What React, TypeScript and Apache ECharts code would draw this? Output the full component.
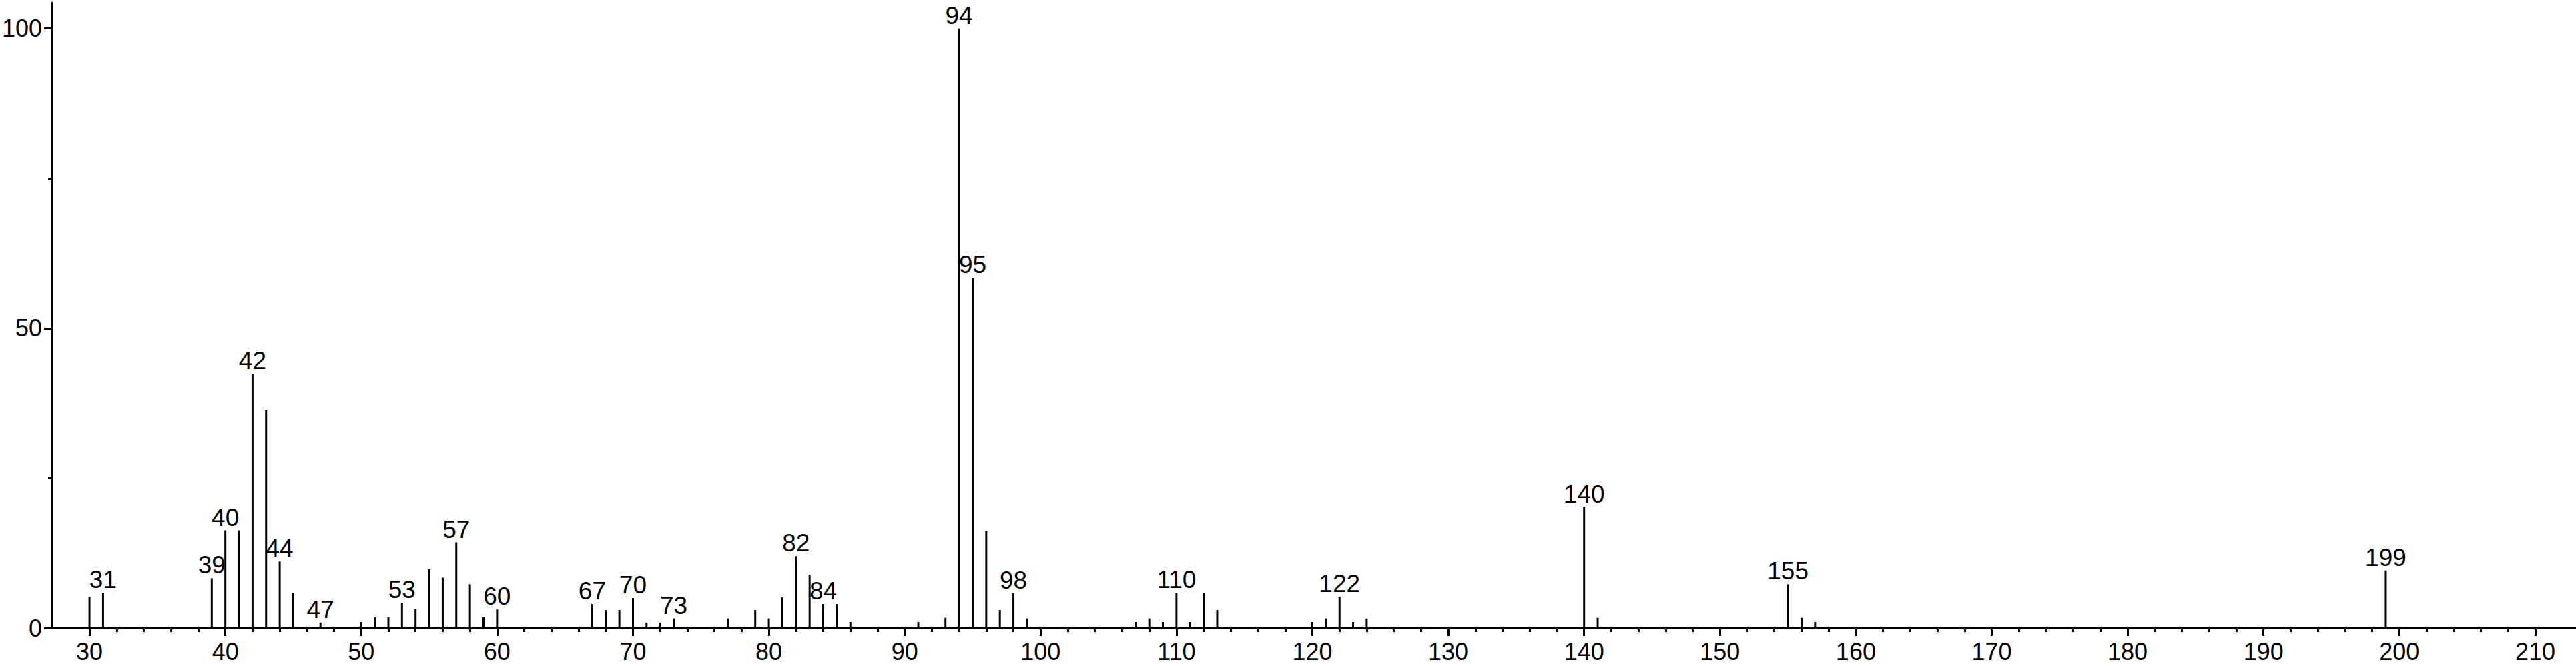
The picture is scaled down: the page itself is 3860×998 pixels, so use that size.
import React, { useEffect, useRef } from "react";
import * as echarts from "echarts";

// m/z values of the peaks
const mzValues = [
  30, 31, 39, 40, 41, 42, 43, 44, 45, 47, 50, 51, 52, 53, 54, 55, 56, 57, 58, 59, 60,
  67, 68, 69, 70, 71, 72, 73, 77, 79, 80, 81, 82, 83, 84, 85, 86, 91, 93, 94, 95, 96, 97, 98, 99,
  107, 108, 109, 110, 111, 112, 113, 120, 121, 122, 123, 124, 140, 141, 155, 156, 157, 199,
];
// relative intensities (%)
const intensities = [
  5.2, 5.9, 8.3, 16.3, 16.3, 42.4, 36.4, 11.1, 5.9, 0.9, 1.0, 1.8, 1.8, 4.2, 3.2, 9.8, 8.4, 14.3, 7.3, 1.8, 3.1,
  4.0, 3.0, 3.0, 5.0, 0.9, 0.9, 1.6, 1.6, 3.0, 1.6, 5.1, 12.0, 8.9, 4.0, 4.0, 1.0, 1.0, 1.7, 100, 58.4, 16.2, 3.0, 5.8, 1.6,
  1.0, 1.6, 1.0, 5.9, 1.0, 5.9, 3.0, 1.0, 1.6, 5.2, 1.0, 1.6, 20.2, 1.7, 7.3, 1.7, 1.0, 9.6,
];
// peaks carrying an m/z annotation
const labeledMz = [31, 39, 40, 42, 44, 47, 53, 57, 60, 67, 70, 73, 82, 84, 94, 95, 98, 110, 122, 140, 155, 199];

const xMajorTicks = [30, 40, 50, 60, 70, 80, 90, 100, 110, 120, 130, 140, 150, 160, 170, 180, 190, 200, 210];
const yMajorTicks = [0, 50, 100];
const yMinorTicks = [25, 75];

const X_MIN = 27.25;
const X_MAX = 213;
const Y_MIN = 0;
const Y_MAX = 104.3;

const FONT = "'Liberation Sans', Arial, Helvetica, sans-serif";

export default function App() {
  const ref = useRef<HTMLDivElement | null>(null);

  useEffect(() => {
    if (!ref.current) return;
    const chart = echarts.init(ref.current, undefined, { renderer: "svg" });

    const xMinorTicks: number[] = [];
    for (let v = 32; v <= 208; v += 2) {
      if (v % 10 !== 0) xMinorTicks.push(v);
    }

    const tickStyle = { color: "#000", width: 3 };

    chart.setOption({
      animation: false,
      backgroundColor: "#fff",
      grid: { left: 69, right: 0, top: 4, bottom: 57, containLabel: false },
      xAxis: [
        {
          type: "value",
          position: "bottom",
          min: X_MIN,
          max: X_MAX,
          axisLine: { show: true, onZero: false, lineStyle: { color: "#000", width: 3 } },
          axisTick: { show: true, customValues: xMajorTicks, length: 12, lineStyle: tickStyle },
          axisLabel: {
            show: true,
            customValues: xMajorTicks,
            margin: 17,
            fontSize: 36,
            color: "#000",
            fontFamily: FONT,
          },
          splitLine: { show: false },
        },
        {
          type: "value",
          position: "bottom",
          min: X_MIN,
          max: X_MAX,
          axisLine: { show: false, onZero: false },
          axisTick: { show: true, customValues: xMinorTicks, length: 6, lineStyle: tickStyle },
          axisLabel: { show: false },
          splitLine: { show: false },
        },
      ],
      yAxis: [
        {
          type: "value",
          position: "left",
          min: Y_MIN,
          max: Y_MAX,
          axisLine: { show: true, onZero: false, lineStyle: { color: "#000", width: 3 } },
          axisTick: { show: true, customValues: yMajorTicks, length: 12, lineStyle: tickStyle },
          axisLabel: {
            show: true,
            customValues: yMajorTicks,
            margin: 15,
            fontSize: 36,
            color: "#000",
            fontFamily: FONT,
          },
          splitLine: { show: false },
        },
        {
          type: "value",
          position: "left",
          min: Y_MIN,
          max: Y_MAX,
          axisLine: { show: false, onZero: false },
          axisTick: { show: true, customValues: yMinorTicks, length: 6, lineStyle: tickStyle },
          axisLabel: { show: false },
          splitLine: { show: false },
        },
      ],
      series: [
        {
          type: "bar",
          xAxisIndex: 0,
          yAxisIndex: 0,
          barWidth: 3,
          silent: true,
          itemStyle: { color: "#000" },
          label: {
            show: false,
            position: "top",
            distance: 1,
            color: "#000",
            fontSize: 37,
            fontFamily: FONT,
            formatter: (p: any) => String(p.value[0]),
          },
          data: mzValues.map((m, i) => ({
            value: [m, intensities[i]],
            label: { show: labeledMz.includes(m) },
          })),
        },
      ],
    });

    return () => chart.dispose();
  }, []);

  return (
    <div
      ref={ref}
      style={{ position: "absolute", left: 0, top: 0, width: 3860, height: 998, background: "#fff" }}
    />
  );
}
